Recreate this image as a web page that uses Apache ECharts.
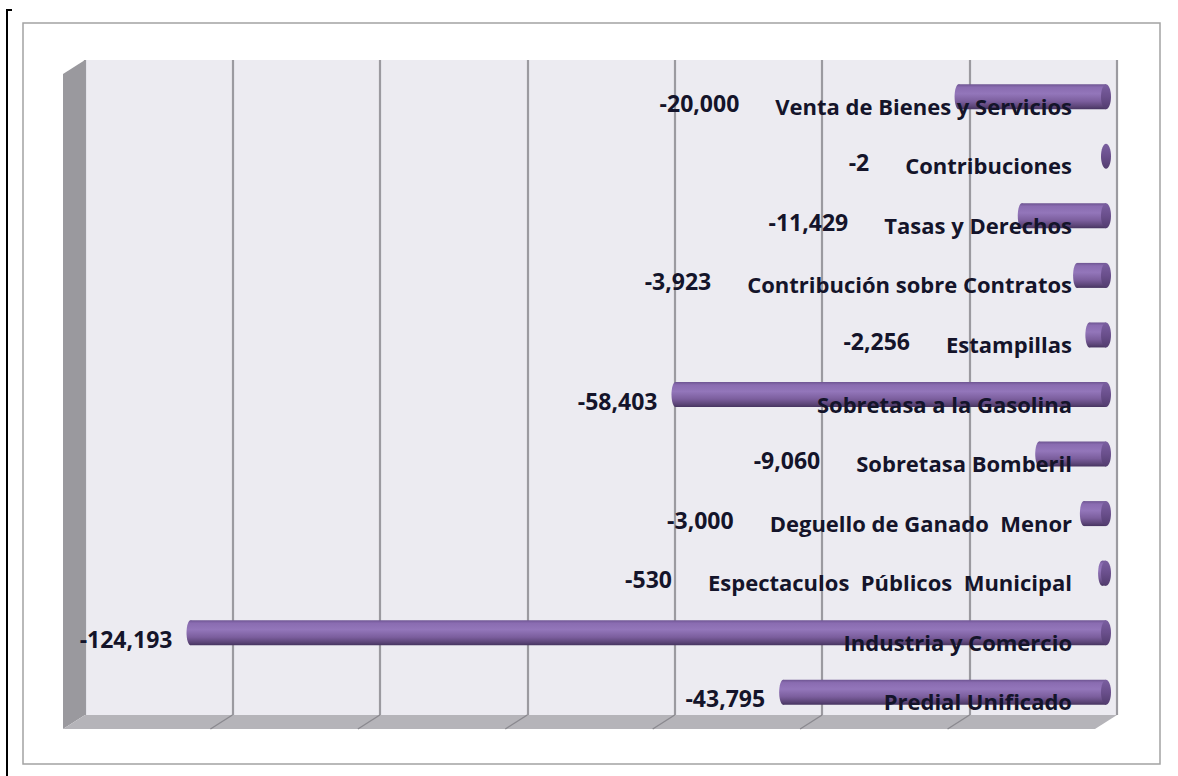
<!DOCTYPE html>
<html>
<head>
<meta charset="utf-8">
<script src="https://cdn.jsdelivr.net/npm/echarts@6/dist/echarts.min.js"></script>
<style>
  html, body { margin: 0; padding: 0; background: #ffffff; }
  #chart { width: 1178px; height: 776px; }
</style>
</head>
<body>
<div id="chart"></div>
<script>
// Rubros de ingreso (de arriba hacia abajo) y su variación
const categories = [
  'Venta de Bienes y Servicios',
  'Contribuciones',
  'Tasas y Derechos',
  'Contribución sobre Contratos',
  'Estampillas',
  'Sobretasa a la Gasolina',
  'Sobretasa Bomberil',
  'Deguello de Ganado  Menor',
  'Espectaculos  Públicos  Municipal',
  'Industria y Comercio',
  'Predial Unificado'
];
const values = [-20000, -2, -11429, -3923, -2256, -58403, -9060, -3000, -530, -124193, -43795];

const axisMin = -140000;
const axisMax = 0;
const axisStep = 20000;

// 3D box geometry: the grid is the back wall, bars sit halfway in depth
const DEPTH_X = 22, DEPTH_Y = 14;
const BAR_SHIFT_X = -11, BAR_SHIFT_Y = 7;
const BAR_H = 25;
const NAME_FONT = 'bold 22px "Open Sans"';
const VALUE_FONT = 'bold 23px "Open Sans"';
const TEXT_COLOR = '#14142a';

const measureCtx = document.createElement('canvas').getContext('2d');
function textWidth(s, font) {
  measureCtx.font = font;
  return measureCtx.measureText(s).width;
}
function fmt(v) {
  return v.toLocaleString('en-US');
}

const barGradient = {
  type: 'linear', x: 0, y: 0, x2: 0, y2: 1,
  colorStops: [
    { offset: 0, color: '#6e5592' },
    { offset: 0.12, color: '#8a6cb1' },
    { offset: 0.38, color: '#9376ba' },
    { offset: 0.68, color: '#7b5e9d' },
    { offset: 0.88, color: '#5d4679' },
    { offset: 1, color: '#463460' }
  ]
};
const capGradient = {
  type: 'linear', x: 0, y: 0, x2: 0, y2: 1,
  colorStops: [
    { offset: 0, color: '#7a5fa0' },
    { offset: 0.5, color: '#6a4f8c' },
    { offset: 1, color: '#523c6e' }
  ]
};

function renderWalls(params, api) {
  const cs = params.coordSys;
  const x0 = cs.x, y0 = cs.y, x1 = cs.x + cs.width, y1 = cs.y + cs.height;
  const children = [];
  // side wall on the left
  children.push({
    type: 'polygon',
    shape: { points: [[x0 - DEPTH_X, y0 + DEPTH_Y], [x0, y0], [x0, y1], [x0 - DEPTH_X, y1 + DEPTH_Y]] },
    style: { fill: '#9a999e' }
  });
  // floor
  children.push({
    type: 'polygon',
    shape: { points: [[x0, y1], [x1, y1], [x1 - DEPTH_X, y1 + DEPTH_Y], [x0 - DEPTH_X, y1 + DEPTH_Y]] },
    style: { fill: '#b5b4b9' }
  });
  // grid lines continued across the floor
  for (let v = axisMin + axisStep; v < axisMax; v += axisStep) {
    const px = api.coord([v, 0])[0];
    children.push({
      type: 'line',
      shape: { x1: px, y1: y1, x2: px - DEPTH_X, y2: y1 + DEPTH_Y },
      style: { stroke: '#8a898f', lineWidth: 1.4 }
    });
  }
  return { type: 'group', children: children };
}

function renderBar(params, api) {
  const v = api.value(0);
  const idx = api.value(1);
  const zero = api.coord([0, idx]);
  const end = api.coord([v, idx]);
  const cy = zero[1] + BAR_SHIFT_Y;
  const xr = zero[0] + BAR_SHIFT_X;
  const xl = end[0] + BAR_SHIFT_X;
  const half = BAR_H / 2;
  const children = [];

  if (xr - xl > 0.5) {
    children.push({
      type: 'rect',
      shape: { x: xl, y: cy - half, width: xr - xl, height: BAR_H },
      style: { fill: barGradient }
    });
    children.push({
      type: 'ellipse',
      shape: { cx: xl, cy: cy, rx: 4, ry: half },
      style: { fill: barGradient }
    });
  }
  children.push({
    type: 'ellipse',
    shape: { cx: xr, cy: cy, rx: 5, ry: half },
    style: { fill: capGradient }
  });

  // category name, right aligned near the zero end
  const cat = categories[idx];
  const catRight = xr - 34;
  const catLeft = catRight - textWidth(cat, NAME_FONT);
  children.push({
    type: 'text',
    style: {
      text: cat, x: catRight, y: cy + 9,
      align: 'right', verticalAlign: 'middle',
      textAlign: 'right', textVerticalAlign: 'middle',
      font: NAME_FONT, fill: TEXT_COLOR
    }
  });
  // value, left of the bar or of the name, whichever is further left
  const valRight = Math.min(xl - 4 - 14, catLeft - 36);
  children.push({
    type: 'text',
    style: {
      text: fmt(v), x: valRight, y: cy + 6,
      align: 'right', verticalAlign: 'middle',
      textAlign: 'right', textVerticalAlign: 'middle',
      font: VALUE_FONT, fill: TEXT_COLOR
    }
  });
  return { type: 'group', children: children };
}

const chart = echarts.init(document.getElementById('chart'), null, { renderer: 'svg' });
chart.setOption({
  backgroundColor: '#ffffff',
  animation: false,
  grid: {
    left: 85, top: 60, width: 1032, height: 655,
    show: true, backgroundColor: '#ecebf1', borderWidth: 0
  },
  xAxis: {
    type: 'value', min: axisMin, max: axisMax, interval: axisStep,
    axisLabel: { show: false }, axisLine: { show: false }, axisTick: { show: false },
    splitLine: { show: true, lineStyle: { color: '#9b9aa0', width: 2.2 } }
  },
  yAxis: {
    type: 'category', data: categories, inverse: true,
    axisLabel: { show: false }, axisLine: { show: false }, axisTick: { show: false },
    splitLine: { show: false }
  },
  graphic: [
    {
      type: 'rect', silent: true,
      shape: { x: 23, y: 23, width: 1137, height: 741 },
      style: { fill: 'none', stroke: '#a3a3a3', lineWidth: 1.5 }
    },
    {
      type: 'polyline', silent: true,
      shape: { points: [[12, 10], [7, 10], [7, 776]] },
      style: { fill: 'none', stroke: '#000000', lineWidth: 2 }
    }
  ],
  series: [
    {
      type: 'custom', name: 'walls', clip: false, silent: true,
      renderItem: renderWalls,
      data: [[0, 0]],
      encode: { x: 0, y: 1 },
      z: 1
    },
    {
      type: 'custom', name: 'Variación', clip: false,
      renderItem: renderBar,
      data: values.map((v, i) => [v, i]),
      encode: { x: 0, y: 1 },
      z: 2
    }
  ]
});
</script>
</body>
</html>
